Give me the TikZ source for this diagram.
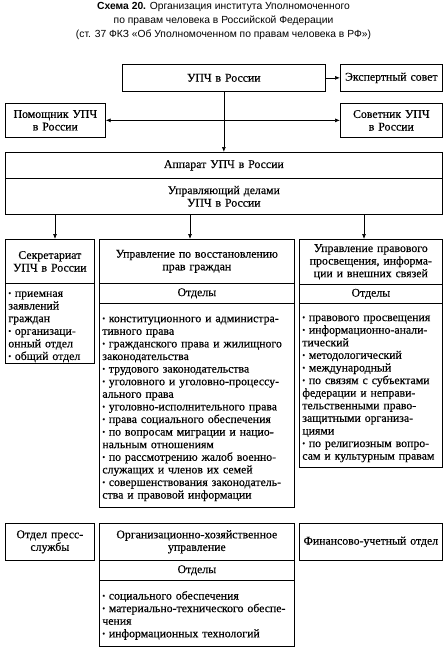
\documentclass[tikz,border=0pt]{standalone}
\usepackage{fontspec}
\setmainfont{Liberation Serif}[FakeBold=0.4]
\newfontfamily\titlefont{Liberation Sans}
\usetikzlibrary{arrows.meta}
\newcommand\itm[1]{\par\noindent\hangindent=6.5pt\hangafter=1\makebox[6.5pt][l]{\raisebox{0.2ex}{\fontsize{8}{8}\selectfont\textbullet}}#1}
\begin{document}
\begin{tikzpicture}[x=1pt,y=-1pt,
  box/.style={draw, line width=0.7pt, inner xsep=3pt, inner ysep=1pt, anchor=north west, align=center,
    font=\fontsize{11.8}{12.6}\selectfont},
  lst/.style={box, align=left},
  wh/.code 2 args={\pgfmathsetmacro\tw{#1-6}\edef\tmp{\noexpand\pgfkeysalso{minimum width=#1pt, minimum height=#2pt, text width=\tw pt}}\tmp},
  arr/.style={line width=0.7pt, -{Latex[length=5pt,width=4pt]}},
  darr/.style={line width=0.7pt, {Latex[length=5pt,width=4pt]}-{Latex[length=5pt,width=4pt]}}
]
\useasboundingbox (0,0) rectangle (447,651);
\node[font=\titlefont\fontsize{10.3}{13.7}\selectfont, align=center] (title) at (223.5,21)
  {\textbf{Схема 20.} Организация института Уполномоченного\\по правам человека в Российской Федерации\\(ст. 37 ФКЗ «Об Уполномоченном по правам человека в РФ»)};

\node[box, wh={203}{27}] (upch) at (122,64) {УПЧ в России};
\node[box, wh={102}{27}] (expert) at (340,64) {Экспертный совет};
\node[box, wh={100}{34}] (pom) at (5,103) {Помощник УПЧ\\в России};
\node[box, wh={102}{34}] (sov) at (340,103) {Советник УПЧ\\в России};
\node[box, wh={437}{26}] (apparat) at (5,152) {Аппарат УПЧ в России};
\node[box, wh={437}{36}] (uprav) at (5,178) {Управляющий делами\\УПЧ в России};

\node[box, wh={89}{44}] (sekh) at (5,239) {Секретариат\\УПЧ в России};
\node[lst, wh={89}{80}] (sekl) at (5,283) {\itm{приемная\\заявлений\\граждан}\itm{организаци-\\онный отдел}\itm{общий отдел}};

\node[box, wh={195}{44}] (midh) at (99,239) {Управление по восстановлению\\прав граждан};
\node[box, wh={195}{20}] (mido) at (99,283) {Отделы};
\node[lst, wh={195}{204}] (midl) at (99,303) {\itm{конституционного и администра-\\тивного права}\itm{гражданского права и жилищного\\законодательства}\itm{трудового законодательства}\itm{уголовного и уголовно-процессу-\\ального права}\itm{уголовно-исполнительного права}\itm{права социального обеспечения}\itm{по вопросам миграции и нацио-\\нальным отношениям}\itm{по рассмотрению жалоб военно-\\служащих и членов их семей}\itm{совершенствования законодатель-\\ства и правовой информации}};

\node[box, wh={143}{45}] (rh) at (299,239) {Управление правового\\просвещения, информа-\\ции и внешних связей};
\node[box, wh={143}{19}] (ro) at (299,284) {Отделы};
\node[lst, wh={143}{164}] (rl) at (299,303) {\itm{правового просвещения}\itm{информационно-анали-\\тический}\itm{методологический}\itm{международный}\itm{по связям с субъектами\\федерации и неправи-\\тельственными право-\\защитными организа-\\циями}\itm{по религиозным вопро-\\сам и культурным правам}};

\node[box, wh={89}{37}] (press) at (5,523) {Отдел пресс-\\службы};
\node[box, wh={195}{37}] (orgh) at (99,523) {Организационно-хозяйственное\\управление};
\node[box, wh={195}{20}] (orgo) at (99,560) {Отделы};
\node[lst, wh={195}{66}] (orgl) at (99,580) {\itm{социального обеспечения}\itm{материально-технического обеспе-\\чения}\itm{информационных технологий}};
\node[box, wh={143}{37}] (fin) at (299,523) {Финансово-учетный отдел};

\draw[arr] (upch.east) -- (expert.west);
\draw[arr] (upch.south) -- (apparat.north);
\draw[darr] (pom.east) -- (sov.west);
\coordinate (c1) at (55,0);
\coordinate (c2) at (190,0);
\coordinate (c3) at (364,0);
\draw[arr] (uprav.south -| c1) -- (sekh.north -| c1);
\draw[arr] (uprav.south -| c2) -- (midh.north -| c2);
\draw[arr] (uprav.south -| c3) -- (rh.north -| c3);
\end{tikzpicture}
\end{document}
